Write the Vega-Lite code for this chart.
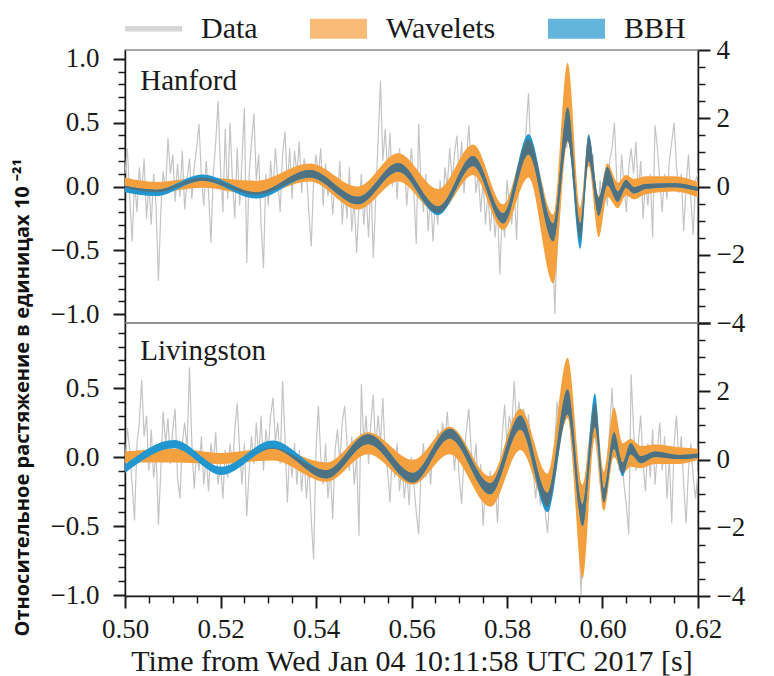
{
"$schema": "https://vega.github.io/schema/vega-lite/v6.json",
"padding": {"left": 11, "top": 0, "right": 10, "bottom": 5},
"background": "white",
"bounds": "flush",
"config": {
  "font": "Liberation Serif",
  "view": {"stroke": "#8a8a8a", "strokeWidth": 1.5},
  "axis": {"grid": false, "labelFont": "Liberation Serif", "labelFontSize": 27, "labelColor": "#1a1a1a", "tickColor": "#1a1a1a", "domainColor": "#1a1a1a", "domainWidth": 1.5, "labelOverlap": false, "labelBound": false, "labelFlush": false, "titleFont": "Liberation Serif", "titleFontWeight": "normal", "titleColor": "#1a1a1a", "tickCount": 100}
},
"datasets": {
"noise": [
{"t":0.5000,"h":0.10,"l":-0.05},{"t":0.5005,"h":0.30,"l":0.21},{"t":0.5010,"h":-0.10,"l":0.05},{"t":0.5015,"h":-0.43,"l":-0.20},{"t":0.5020,"h":0.05,"l":-0.46},
{"t":0.5025,"h":-0.20,"l":0.10},{"t":0.5030,"h":0.15,"l":0.25},{"t":0.5035,"h":-0.05,"l":0.56},{"t":0.5040,"h":0.22,"l":0.15},{"t":0.5045,"h":-0.25,"l":0.30},
{"t":0.5050,"h":0.02,"l":-0.10},{"t":0.5055,"h":-0.30,"l":0.20},{"t":0.5060,"h":0.10,"l":-0.15},{"t":0.5065,"h":-0.15,"l":0.05},{"t":0.5070,"h":-0.74,"l":-0.49},
{"t":0.5075,"h":-0.20,"l":-0.10},{"t":0.5080,"h":0.12,"l":0.33},{"t":0.5085,"h":-0.05,"l":0.10},{"t":0.5090,"h":0.38,"l":0.28},{"t":0.5095,"h":0.10,"l":-0.05},
{"t":0.5100,"h":0.25,"l":0.20},{"t":0.5105,"h":-0.12,"l":0.35},{"t":0.5110,"h":0.18,"l":-0.15},{"t":0.5115,"h":-0.08,"l":-0.30},{"t":0.5120,"h":0.28,"l":0.10},
{"t":0.5125,"h":-0.18,"l":0.25},{"t":0.5130,"h":0.05,"l":0.05},{"t":0.5135,"h":0.22,"l":0.65},{"t":0.5140,"h":-0.10,"l":0.10},{"t":0.5145,"h":0.15,"l":-0.23},
{"t":0.5150,"h":0.30,"l":0.05},{"t":0.5155,"h":0.49,"l":-0.10},{"t":0.5160,"h":0.08,"l":0.15},{"t":0.5165,"h":-0.15,"l":-0.20},{"t":0.5170,"h":0.20,"l":0.00},
{"t":0.5175,"h":-0.05,"l":-0.25},{"t":0.5180,"h":-0.44,"l":0.10},{"t":0.5185,"h":0.10,"l":-0.05},{"t":0.5190,"h":0.35,"l":0.18},{"t":0.5195,"h":0.67,"l":-0.20},
{"t":0.5200,"h":0.15,"l":-0.05},{"t":0.5205,"h":-0.20,"l":-0.30},{"t":0.5210,"h":0.45,"l":0.05},{"t":0.5215,"h":-0.10,"l":-0.15},{"t":0.5220,"h":0.50,"l":0.10},
{"t":0.5225,"h":0.05,"l":-0.10},{"t":0.5230,"h":-0.25,"l":0.20},{"t":0.5235,"h":0.30,"l":0.39},{"t":0.5240,"h":-0.15,"l":0.05},{"t":0.5245,"h":0.20,"l":-0.20},
{"t":0.5250,"h":0.62,"l":0.10},{"t":0.5255,"h":-0.60,"l":-0.43},{"t":0.5260,"h":0.10,"l":-0.10},{"t":0.5265,"h":0.35,"l":0.15},{"t":0.5270,"h":0.57,"l":-0.05},
{"t":0.5275,"h":0.05,"l":0.25},{"t":0.5280,"h":0.25,"l":0.00},{"t":0.5285,"h":-0.30,"l":0.30},{"t":0.5290,"h":-0.64,"l":-0.10},{"t":0.5295,"h":0.10,"l":0.20},
{"t":0.5300,"h":-0.15,"l":0.05},{"t":0.5305,"h":0.20,"l":0.30},{"t":0.5310,"h":-0.05,"l":0.43},{"t":0.5315,"h":0.30,"l":0.10},{"t":0.5320,"h":0.05,"l":0.25},
{"t":0.5325,"h":-0.20,"l":-0.05},{"t":0.5330,"h":0.25,"l":0.55},{"t":0.5335,"h":0.43,"l":0.15},{"t":0.5340,"h":0.00,"l":-0.33},{"t":0.5345,"h":0.30,"l":0.05},
{"t":0.5350,"h":-0.10,"l":-0.15},{"t":0.5355,"h":0.28,"l":0.10},{"t":0.5360,"h":0.10,"l":-0.20},{"t":0.5365,"h":0.35,"l":0.05},{"t":0.5370,"h":-0.05,"l":-0.25},
{"t":0.5375,"h":0.22,"l":0.00},{"t":0.5380,"h":0.12,"l":-0.30},{"t":0.5385,"h":-0.20,"l":-0.05},{"t":0.5390,"h":-0.47,"l":-0.45},{"t":0.5395,"h":0.05,"l":-0.74},
{"t":0.5400,"h":0.25,"l":0.05},{"t":0.5405,"h":0.10,"l":0.37},{"t":0.5410,"h":0.30,"l":0.00},{"t":0.5415,"h":-0.15,"l":-0.20},{"t":0.5420,"h":0.18,"l":0.10},
{"t":0.5425,"h":-0.08,"l":-0.30},{"t":0.5430,"h":0.10,"l":-0.10},{"t":0.5435,"h":-0.22,"l":-0.45},{"t":0.5440,"h":0.05,"l":0.05},{"t":0.5445,"h":-0.10,"l":0.20},
{"t":0.5450,"h":0.20,"l":-0.05},{"t":0.5455,"h":-0.30,"l":0.25},{"t":0.5460,"h":0.00,"l":0.37},{"t":0.5465,"h":-0.25,"l":0.10},{"t":0.5470,"h":0.15,"l":-0.10},
{"t":0.5475,"h":-0.35,"l":0.15},{"t":0.5480,"h":-0.10,"l":-0.20},{"t":0.5485,"h":-0.52,"l":0.00},{"t":0.5490,"h":-0.15,"l":-0.57},{"t":0.5495,"h":0.10,"l":0.53},
{"t":0.5500,"h":-0.30,"l":0.10},{"t":0.5505,"h":-0.05,"l":0.30},{"t":0.5510,"h":-0.40,"l":-0.05},{"t":0.5515,"h":0.05,"l":0.25},{"t":0.5520,"h":-0.56,"l":0.45},
{"t":0.5525,"h":-0.10,"l":0.05},{"t":0.5530,"h":0.35,"l":0.30},{"t":0.5535,"h":0.83,"l":0.10},{"t":0.5540,"h":0.20,"l":0.43},{"t":0.5545,"h":0.45,"l":0.00},
{"t":0.5550,"h":0.10,"l":-0.10},{"t":0.5555,"h":0.42,"l":-0.33},{"t":0.5560,"h":0.00,"l":0.05},{"t":0.5565,"h":0.25,"l":-0.15},{"t":0.5570,"h":-0.10,"l":0.10},
{"t":0.5575,"h":0.30,"l":-0.25},{"t":0.5580,"h":0.05,"l":-0.05},{"t":0.5585,"h":0.20,"l":-0.30},{"t":0.5590,"h":-0.15,"l":-0.10},{"t":0.5595,"h":0.10,"l":-0.35},
{"t":0.5600,"h":0.30,"l":0.00},{"t":0.5605,"h":-0.05,"l":-0.20},{"t":0.5610,"h":-0.45,"l":-0.40},{"t":0.5615,"h":0.49,"l":-0.56},{"t":0.5620,"h":0.00,"l":-0.10},
{"t":0.5625,"h":-0.20,"l":0.10},{"t":0.5630,"h":0.10,"l":-0.15},{"t":0.5635,"h":-0.35,"l":0.05},{"t":0.5640,"h":-0.05,"l":-0.20},{"t":0.5645,"h":-0.43,"l":0.10},
{"t":0.5650,"h":-0.10,"l":-0.05},{"t":0.5655,"h":-0.30,"l":0.20},{"t":0.5660,"h":0.05,"l":0.05},{"t":0.5665,"h":-0.20,"l":0.25},{"t":0.5670,"h":0.15,"l":0.10},
{"t":0.5675,"h":0.00,"l":0.33},{"t":0.5680,"h":0.30,"l":0.05},{"t":0.5685,"h":0.05,"l":0.20},{"t":0.5690,"h":0.25,"l":-0.10},{"t":0.5695,"h":0.40,"l":0.15},
{"t":0.5700,"h":0.10,"l":-0.15},{"t":0.5705,"h":0.35,"l":-0.34},{"t":0.5710,"h":-0.05,"l":0.00},{"t":0.5715,"h":0.20,"l":0.20},{"t":0.5720,"h":0.48,"l":0.35},
{"t":0.5725,"h":0.15,"l":0.05},{"t":0.5730,"h":0.30,"l":-0.10},{"t":0.5735,"h":-0.05,"l":0.10},{"t":0.5740,"h":0.10,"l":-0.25},{"t":0.5745,"h":-0.20,"l":-0.05},
{"t":0.5750,"h":0.05,"l":-0.50},{"t":0.5755,"h":-0.30,"l":-0.20},{"t":0.5760,"h":-0.05,"l":-0.35},{"t":0.5765,"h":-0.35,"l":-0.10},{"t":0.5770,"h":-0.10,"l":-0.30},
{"t":0.5775,"h":-0.40,"l":-0.15},{"t":0.5780,"h":-0.15,"l":-0.48},{"t":0.5785,"h":-0.69,"l":-0.10},{"t":0.5790,"h":-0.20,"l":0.15},{"t":0.5795,"h":-0.40,"l":0.38},
{"t":0.5800,"h":0.05,"l":0.10},{"t":0.5805,"h":-0.15,"l":0.30},{"t":0.5810,"h":-0.30,"l":0.20},{"t":0.5815,"h":0.00,"l":0.55},{"t":0.5820,"h":-0.42,"l":0.25},
{"t":0.5825,"h":0.10,"l":0.40},{"t":0.5830,"h":0.25,"l":0.20},{"t":0.5835,"h":0.15,"l":0.35},{"t":0.5840,"h":0.45,"l":0.10},{"t":0.5845,"h":0.73,"l":0.31},
{"t":0.5850,"h":0.23,"l":0.00},{"t":0.5855,"h":0.30,"l":-0.10},{"t":0.5860,"h":0.05,"l":-0.30},{"t":0.5865,"h":-0.10,"l":-0.10},{"t":0.5870,"h":-0.25,"l":-0.35},
{"t":0.5875,"h":0.00,"l":-0.20},{"t":0.5880,"h":-0.35,"l":-0.40},{"t":0.5885,"h":-0.20,"l":-0.55},{"t":0.5890,"h":-0.55,"l":-0.25},{"t":0.5895,"h":-0.30,"l":-0.10},
{"t":0.5900,"h":-1.00,"l":0.10},{"t":0.5905,"h":-0.45,"l":0.40},{"t":0.5910,"h":-0.20,"l":0.20},{"t":0.5915,"h":0.10,"l":0.35},{"t":0.5920,"h":0.45,"l":0.25},
{"t":0.5925,"h":0.30,"l":0.38},{"t":0.5930,"h":0.55,"l":0.30},{"t":0.5935,"h":0.20,"l":0.10},{"t":0.5940,"h":0.05,"l":-0.10},{"t":0.5945,"h":-0.20,"l":-0.30},
{"t":0.5950,"h":-0.30,"l":-0.50},{"t":0.5955,"h":-0.15,"l":-1.00},{"t":0.5960,"h":-0.05,"l":-0.40},{"t":0.5965,"h":0.20,"l":-0.15},{"t":0.5970,"h":0.40,"l":0.05},
{"t":0.5975,"h":0.15,"l":0.20},{"t":0.5980,"h":0.25,"l":0.35},{"t":0.5985,"h":-0.10,"l":0.15},{"t":0.5990,"h":-0.25,"l":0.00},{"t":0.5995,"h":0.05,"l":-0.20},
{"t":0.6000,"h":-0.20,"l":-0.10},{"t":0.6005,"h":0.10,"l":-0.30},{"t":0.6010,"h":-0.15,"l":-0.05},{"t":0.6015,"h":0.20,"l":0.20},{"t":0.6020,"h":0.30,"l":0.50},
{"t":0.6025,"h":0.50,"l":0.10},{"t":0.6030,"h":0.05,"l":0.20},{"t":0.6035,"h":-0.15,"l":-0.10},{"t":0.6040,"h":0.25,"l":0.05},{"t":0.6045,"h":0.00,"l":-0.20},
{"t":0.6050,"h":-0.20,"l":-0.35},{"t":0.6055,"h":0.15,"l":-0.56},{"t":0.6060,"h":0.30,"l":0.60},{"t":0.6065,"h":0.10,"l":0.20},{"t":0.6070,"h":0.35,"l":-0.10},
{"t":0.6075,"h":-0.05,"l":0.10},{"t":0.6080,"h":0.20,"l":0.30},{"t":0.6085,"h":-0.25,"l":-0.05},{"t":0.6090,"h":0.05,"l":-0.25},{"t":0.6095,"h":-0.15,"l":0.10},
{"t":0.6100,"h":0.10,"l":-0.15},{"t":0.6105,"h":-0.40,"l":0.20},{"t":0.6110,"h":0.48,"l":-0.20},{"t":0.6115,"h":0.30,"l":0.05},{"t":0.6120,"h":0.05,"l":0.25},
{"t":0.6125,"h":-0.20,"l":-0.10},{"t":0.6130,"h":0.10,"l":0.15},{"t":0.6135,"h":-0.10,"l":-0.30},{"t":0.6140,"h":0.20,"l":0.00},{"t":0.6145,"h":0.35,"l":-0.48},
{"t":0.6150,"h":0.50,"l":0.10},{"t":0.6155,"h":0.15,"l":0.30},{"t":0.6160,"h":-0.05,"l":-0.05},{"t":0.6165,"h":0.10,"l":0.15},{"t":0.6170,"h":-0.35,"l":-0.20},
{"t":0.6175,"h":0.00,"l":-0.48},{"t":0.6180,"h":0.25,"l":-0.10},{"t":0.6185,"h":-0.10,"l":0.10},{"t":0.6190,"h":-0.38,"l":-0.15},{"t":0.6195,"h":0.05,"l":-0.30},
{"t":0.6200,"h":0.10,"l":-0.10}
],
"han": [
{"t":0.5000,"wl":-0.01,"wh":0.07,"bl":-0.045,"bh":0.005,"ol":-0.01,"oh":0.005},
{"t":0.5065,"wl":-0.045,"wh":0.035,"bl":-0.075,"bh":-0.025,"ol":-0.045,"oh":-0.025},
{"t":0.5162,"wl":-0.01,"wh":0.07,"bl":0.045,"bh":0.095,"ol":0.045,"oh":0.07},
{"t":0.5275,"wl":-0.065,"wh":0.045,"bl":-0.095,"bh":-0.045,"ol":-0.065,"oh":-0.045},
{"t":0.5387,"wl":0.04,"wh":0.18,"bl":0.07,"bh":0.13,"ol":0.07,"oh":0.13},
{"t":0.5488,"wl":-0.18,"wh":0.0,"bl":-0.14,"bh":-0.08,"ol":-0.14,"oh":-0.08},
{"t":0.5572,"wl":0.04,"wh":0.26,"bl":0.115,"bh":0.185,"ol":0.115,"oh":0.185},
{"t":0.5656,"wl":-0.21,"wh":-0.02,"bl":-0.225,"bh":-0.155,"ol":-0.21,"oh":-0.155},
{"t":0.5729,"wl":0.09,"wh":0.33,"bl":0.16,"bh":0.24,"ol":0.16,"oh":0.24},
{"t":0.5792,"wl":-0.34,"wh":-0.14,"bl":-0.29,"bh":-0.21,"ol":-0.29,"oh":-0.21},
{"t":0.5845,"wl":0.07,"wh":0.37,"bl":0.25,"bh":0.41,"ol":0.25,"oh":0.37},
{"t":0.5897,"wl":-0.76,"wh":-0.22,"bl":-0.43,"bh":-0.29,"ol":-0.43,"oh":-0.29},
{"t":0.5927,"wl":0.35,"wh":0.97,"bl":0.36,"bh":0.62,"ol":0.36,"oh":0.62},
{"t":0.5954,"wl":-0.41,"wh":-0.17,"bl":-0.49,"bh":-0.29,"ol":-0.41,"oh":-0.29},
{"t":0.5971,"wl":0.16,"wh":0.39,"bl":0.20,"bh":0.41,"ol":0.20,"oh":0.39},
{"t":0.5992,"wl":-0.40,"wh":-0.08,"bl":-0.23,"bh":-0.09,"ol":-0.23,"oh":-0.09},
{"t":0.6010,"wl":-0.08,"wh":0.18,"bl":0.01,"bh":0.15,"ol":0.01,"oh":0.15},
{"t":0.6032,"wl":-0.17,"wh":0.03,"bl":-0.12,"bh":-0.04,"ol":-0.12,"oh":-0.04},
{"t":0.6049,"wl":-0.07,"wh":0.09,"bl":-0.01,"bh":0.05,"ol":-0.01,"oh":0.05},
{"t":0.6066,"wl":-0.10,"wh":0.06,"bl":-0.055,"bh":-0.005,"ol":-0.055,"oh":-0.005},
{"t":0.6090,"wl":-0.06,"wh":0.08,"bl":-0.02,"bh":0.02,"ol":-0.02,"oh":0.02},
{"t":0.6150,"wl":-0.04,"wh":0.08,"bl":-0.005,"bh":0.025,"ol":-0.005,"oh":0.025},
{"t":0.6200,"wl":-0.085,"wh":0.035,"bl":-0.035,"bh":-0.005,"ol":-0.035,"oh":-0.005}
],
"liv": [
{"t":0.5000,"wl":-0.04,"wh":0.04,"bl":-0.115,"bh":-0.055,"ol":-0.04,"oh":-0.04},
{"t":0.5103,"wl":-0.04,"wh":0.06,"bl":0.064,"bh":0.124,"ol":0.06,"oh":0.06},
{"t":0.5202,"wl":-0.05,"wh":0.03,"bl":-0.13,"bh":-0.07,"ol":-0.05,"oh":-0.05},
{"t":0.5309,"wl":-0.025,"wh":0.065,"bl":0.06,"bh":0.12,"ol":0.06,"oh":0.065},
{"t":0.5422,"wl":-0.18,"wh":-0.04,"bl":-0.155,"bh":-0.095,"ol":-0.155,"oh":-0.095},
{"t":0.5509,"wl":0.02,"wh":0.18,"bl":0.095,"bh":0.165,"ol":0.095,"oh":0.165},
{"t":0.5603,"wl":-0.20,"wh":-0.02,"bl":-0.185,"bh":-0.115,"ol":-0.185,"oh":-0.115},
{"t":0.5680,"wl":0.02,"wh":0.22,"bl":0.135,"bh":0.205,"ol":0.135,"oh":0.205},
{"t":0.5765,"wl":-0.36,"wh":-0.14,"bl":-0.27,"bh":-0.19,"ol":-0.27,"oh":-0.19},
{"t":0.5828,"wl":0.05,"wh":0.35,"bl":0.20,"bh":0.30,"ol":0.20,"oh":0.30},
{"t":0.5885,"wl":-0.36,"wh":-0.12,"bl":-0.40,"bh":-0.26,"ol":-0.36,"oh":-0.26},
{"t":0.5927,"wl":0.28,"wh":0.72,"bl":0.31,"bh":0.49,"ol":0.31,"oh":0.49},
{"t":0.5958,"wl":-0.88,"wh":-0.20,"bl":-0.50,"bh":-0.34,"ol":-0.50,"oh":-0.34},
{"t":0.5984,"wl":0.14,"wh":0.39,"bl":0.22,"bh":0.46,"ol":0.22,"oh":0.39},
{"t":0.6003,"wl":-0.39,"wh":-0.11,"bl":-0.33,"bh":-0.23,"ol":-0.33,"oh":-0.23},
{"t":0.6024,"wl":0.0,"wh":0.36,"bl":0.06,"bh":0.18,"ol":0.06,"oh":0.18},
{"t":0.6042,"wl":-0.12,"wh":0.10,"bl":-0.14,"bh":-0.04,"ol":-0.12,"oh":-0.04},
{"t":0.6059,"wl":-0.07,"wh":0.13,"bl":0.02,"bh":0.10,"ol":0.02,"oh":0.10},
{"t":0.6080,"wl":-0.08,"wh":0.08,"bl":-0.045,"bh":0.005,"ol":-0.045,"oh":0.005},
{"t":0.6110,"wl":-0.05,"wh":0.09,"bl":0.0,"bh":0.04,"ol":0.0,"oh":0.04},
{"t":0.6160,"wl":-0.05,"wh":0.07,"bl":-0.015,"bh":0.015,"ol":-0.015,"oh":0.015},
{"t":0.6200,"wl":-0.02,"wh":0.06,"bl":-0.005,"bh":0.025,"ol":-0.005,"oh":0.025}
]
},
"spacing": 0,
"resolve": {"scale": {"color": "shared"}, "legend": {"color": "shared"}},
"vconcat": [
{
 "width": 573, "height": 273,
 "layer": [
  {"layer": [
   {"data": {"name": "noise"}, "mark": {"type": "line", "strokeWidth": 1.2, "clip": true},
    "encoding": {
     "x": {"field": "t", "type": "quantitative", "scale": {"domain": [0.5, 0.62], "nice": false, "zero": false}, "axis": null},
     "y": {"field": "h", "type": "quantitative", "scale": {"domain": [-1.07, 1.07], "nice": false, "zero": false},
       "axis": {"orient": "left", "title": null, "tickCount": 100, "values": [-1,-0.9,-0.8,-0.7,-0.6,-0.5,-0.4,-0.3,-0.2,-0.1,0,0.1,0.2,0.3,0.4,0.5,0.6,0.7,0.8,0.9,1], "format": ".1f",
        "labelExpr": "abs(datum.value*2-round(datum.value*2))<0.001 ? datum.label : ''",
        "tickSize": {"condition": {"test": "abs(datum.value*2-round(datum.value*2))<0.001", "value": 12}, "value": 7},
        "tickWidth": {"condition": {"test": "abs(datum.value*2-round(datum.value*2))<0.001", "value": 2}, "value": 1.5},
        "labelPadding": 14}},
     "color": {"datum": "Data", "type": "nominal",
       "scale": {"domain": ["Data", "Wavelets", "BBH"], "range": ["#c4c4c4", "#f5a03f", "#2196cf"]},
       "legend": {"orient": "top", "direction": "horizontal", "title": null, "offset": -9,
         "symbolType": "M-1,-0.36H1V0.36H-1Z", "symbolSize": 3249, "symbolOpacity": 0.7, "symbolStrokeWidth": 0,
         "labelFont": "Liberation Serif", "labelFontSize": 30, "labelColor": "#1a1a1a", "labelOffset": 19, "columnPadding": 52, "labelLimit": 300,
         "encode": {"symbols": {"update": {
            "shape": {"signal": "datum.value === 'Data' ? 'M-1,-0.1H1V0.1H-1Z' : 'M-1,-0.35H1V0.35H-1Z'"},
            "fill": {"scale": "color", "field": "value"},
            "stroke": {"value": "transparent"}}}}}}
    }},
   {"data": {"name": "han"}, "mark": {"type": "area", "interpolate": "monotone", "opacity": 1, "clip": true},
    "encoding": {"x": {"field": "t", "type": "quantitative"}, "y": {"field": "wl", "type": "quantitative"}, "y2": {"field": "wh"}, "color": {"datum": "Wavelets", "type": "nominal"}}},
   {"data": {"name": "han"}, "mark": {"type": "area", "interpolate": "monotone", "opacity": 1, "clip": true},
    "encoding": {"x": {"field": "t", "type": "quantitative"}, "y": {"field": "bl", "type": "quantitative"}, "y2": {"field": "bh"}, "color": {"datum": "BBH", "type": "nominal"}}},
   {"data": {"name": "han"}, "mark": {"type": "area", "interpolate": "monotone", "opacity": 1, "color": "#4f7283", "clip": true},
    "encoding": {"x": {"field": "t", "type": "quantitative"}, "y": {"field": "ol", "type": "quantitative"}, "y2": {"field": "oh"}}},
   {"data": {"values": [{}]}, "mark": {"type": "text", "align": "left", "baseline": "alphabetic", "font": "Liberation Serif", "fontSize": 29, "color": "#1a1a1a"},
    "encoding": {"x": {"datum": 0.5032, "type": "quantitative"}, "y": {"datum": 0.76, "type": "quantitative"}, "text": {"value": "Hanford"}}}
  ]},
  {"data": {"values": [{}]}, "mark": {"type": "point", "opacity": 0},
   "encoding": {"x": {"datum": 0.55, "type": "quantitative"},
     "y": {"datum": 0, "type": "quantitative", "scale": {"domain": [-4, 4], "nice": false, "zero": false},
       "axis": {"orient": "right", "title": null, "tickCount": 100, "values": [-4,-3.5,-3,-2.5,-2,-1.5,-1,-0.5,0,0.5,1,1.5,2,2.5,3,3.5,4], "format": ".0f",
        "labelExpr": "abs(datum.value/2-round(datum.value/2))<0.001 ? datum.label : ''",
        "tickSize": {"condition": {"test": "abs(datum.value/2-round(datum.value/2))<0.001", "value": 12}, "value": 7},
        "tickWidth": {"condition": {"test": "abs(datum.value/2-round(datum.value/2))<0.001", "value": 2}, "value": 1.5},
        "labelPadding": 6}}}}
 ],
 "resolve": {"scale": {"y": "independent"}, "axis": {"y": "independent"}}
},
{
 "width": 573, "height": 273,
 "layer": [
  {"layer": [
   {"data": {"name": "noise"}, "mark": {"type": "line", "strokeWidth": 1.2, "clip": true},
    "encoding": {
     "x": {"field": "t", "type": "quantitative", "scale": {"domain": [0.5, 0.62], "nice": false, "zero": false},
       "axis": {"title": "Time from Wed Jan 04 10:11:58 UTC 2017 [s]", "titleFontSize": 30, "titlePadding": 4, "tickCount": 100,
        "values": [0.5,0.505,0.51,0.515,0.52,0.525,0.53,0.535,0.54,0.545,0.55,0.555,0.56,0.565,0.57,0.575,0.58,0.585,0.59,0.595,0.6,0.605,0.61,0.615,0.62], "format": ".2f",
        "labelExpr": "abs(datum.value*50-round(datum.value*50))<0.001 ? datum.label : ''",
        "tickSize": {"condition": {"test": "abs(datum.value*50-round(datum.value*50))<0.001", "value": 12}, "value": 7},
        "tickWidth": {"condition": {"test": "abs(datum.value*50-round(datum.value*50))<0.001", "value": 2}, "value": 1.5},
        "labelPadding": 8}},
     "y": {"field": "l", "type": "quantitative", "scale": {"domain": [-1.007, 0.971], "nice": false, "zero": false},
       "axis": {"orient": "left", "tickCount": 100, "values": [-1,-0.9,-0.8,-0.7,-0.6,-0.5,-0.4,-0.3,-0.2,-0.1,0,0.1,0.2,0.3,0.4,0.5,0.6,0.7,0.8,0.9], "format": ".1f",
        "labelExpr": "abs(datum.value*2-round(datum.value*2))<0.001 ? datum.label : ''",
        "tickSize": {"condition": {"test": "abs(datum.value*2-round(datum.value*2))<0.001", "value": 12}, "value": 7},
        "tickWidth": {"condition": {"test": "abs(datum.value*2-round(datum.value*2))<0.001", "value": 2}, "value": 1.5},
        "labelPadding": 14,
        "title": "Относительное растяжение в единицах 10 ⁻²¹",
        "titleFont": "Open Sans", "titleFontWeight": "bold", "titleFontSize": 20, "titleColor": "#111111",
        "titleAngle": 270, "titleAlign": "left", "titleBaseline": "alphabetic", "titleAnchor": "start",
        "titleX": -97, "titleY": 313}},
     "color": {"datum": "Data", "type": "nominal"}
    }},
   {"data": {"name": "liv"}, "mark": {"type": "area", "interpolate": "monotone", "opacity": 1, "clip": true},
    "encoding": {"x": {"field": "t", "type": "quantitative"}, "y": {"field": "wl", "type": "quantitative"}, "y2": {"field": "wh"}, "color": {"datum": "Wavelets", "type": "nominal"}}},
   {"data": {"name": "liv"}, "mark": {"type": "area", "interpolate": "monotone", "opacity": 1, "clip": true},
    "encoding": {"x": {"field": "t", "type": "quantitative"}, "y": {"field": "bl", "type": "quantitative"}, "y2": {"field": "bh"}, "color": {"datum": "BBH", "type": "nominal"}}},
   {"data": {"name": "liv"}, "mark": {"type": "area", "interpolate": "monotone", "opacity": 1, "color": "#4f7283", "clip": true},
    "encoding": {"x": {"field": "t", "type": "quantitative"}, "y": {"field": "ol", "type": "quantitative"}, "y2": {"field": "oh"}}},
   {"data": {"values": [{}]}, "mark": {"type": "text", "align": "left", "baseline": "alphabetic", "font": "Liberation Serif", "fontSize": 29, "color": "#1a1a1a"},
    "encoding": {"x": {"datum": 0.5032, "type": "quantitative"}, "y": {"datum": 0.70, "type": "quantitative"}, "text": {"value": "Livingston"}}}
  ]},
  {"data": {"values": [{}]}, "mark": {"type": "point", "opacity": 0},
   "encoding": {"x": {"datum": 0.55, "type": "quantitative"},
     "y": {"datum": 0, "type": "quantitative", "scale": {"domain": [-4, 4], "nice": false, "zero": false},
       "axis": {"orient": "right", "title": null, "tickCount": 100, "values": [-4,-3.5,-3,-2.5,-2,-1.5,-1,-0.5,0,0.5,1,1.5,2,2.5,3,3.5,4], "format": ".0f",
        "labelExpr": "datum.value < 3.9 && abs(datum.value/2-round(datum.value/2))<0.001 ? datum.label : ''",
        "tickSize": {"condition": {"test": "abs(datum.value/2-round(datum.value/2))<0.001", "value": 12}, "value": 7},
        "tickWidth": {"condition": {"test": "abs(datum.value/2-round(datum.value/2))<0.001", "value": 2}, "value": 1.5},
        "labelPadding": 6}}}}
 ],
 "resolve": {"scale": {"y": "independent"}, "axis": {"y": "independent"}}
}
]
}
